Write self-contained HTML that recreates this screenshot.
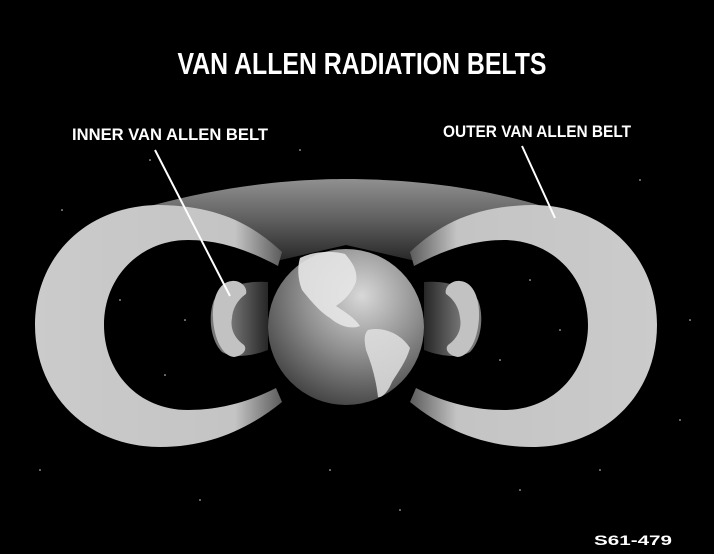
<!DOCTYPE html>
<html><head><meta charset="utf-8"><style>
html,body{margin:0;padding:0;background:#000;width:714px;height:554px;overflow:hidden}
svg{display:block}
text{font-family:"Liberation Sans",sans-serif;font-weight:bold;fill:#fff}
</style></head><body>
<svg width="714" height="554" viewBox="0 0 714 554">
<defs>
<linearGradient id="band" x1="0" y1="0" x2="0" y2="1">
<stop offset="0" stop-color="#909090"/><stop offset="0.5" stop-color="#5e5e5e"/><stop offset="1" stop-color="#262626"/></linearGradient>
<linearGradient id="lobe" gradientUnits="userSpaceOnUse" x1="35" y1="0" x2="285" y2="0">
<stop offset="0" stop-color="#cbcbcb"/><stop offset="0.8" stop-color="#c4c4c4"/><stop offset="1" stop-color="#555"/></linearGradient>
<linearGradient id="tube" gradientUnits="userSpaceOnUse" x1="230" y1="0" x2="270" y2="0">
<stop offset="0" stop-color="#777"/><stop offset="1" stop-color="#222"/></linearGradient>
<radialGradient id="earth" cx="0.6" cy="0.3" r="0.85">
<stop offset="0" stop-color="#d8d8d8"/><stop offset="0.45" stop-color="#8e8e8e"/><stop offset="1" stop-color="#2a2a2a"/></radialGradient>
<g id="lobeShape">
<path d="M282 252 C250 222 215 206 160 205 C85 205 35 258 35 325 C35 395 88 447 160 447 C210 447 250 428 282 402 L276 388 C245 404 215 410 188 410 C138 410 104 372 104 325 C104 275 142 240 188 240 C222 240 252 252 278 266 Z" fill="url(#lobe)"/>
<path d="M268 282 C240 280 222 290 214 300 C208 315 210 340 222 352 C232 358 250 357 268 350 Z" fill="url(#tube)"/>
<path d="M232 281 C218 282 212 300 213 318 C214 338 222 356 234 357 C242 356 248 350 244 345 C234 338 230 328 232 318 C233 306 240 298 246 294 C248 287 240 280 232 281 Z" fill="#c2c2c2"/>
</g>
</defs>
<rect width="714" height="554" fill="#000"/>
<g fill="#ddd">
<circle cx="62" cy="210" r="0.8"/><circle cx="300" cy="150" r="0.8"/><circle cx="640" cy="180" r="0.8"/><circle cx="690" cy="320" r="0.8"/><circle cx="40" cy="470" r="0.8"/><circle cx="330" cy="470" r="0.8"/><circle cx="520" cy="490" r="0.8"/><circle cx="200" cy="500" r="0.8"/><circle cx="600" cy="470" r="0.8"/><circle cx="400" cy="510" r="0.8"/><circle cx="150" cy="160" r="0.8"/><circle cx="680" cy="420" r="0.8"/>
<circle cx="120" cy="300" r="0.8"/><circle cx="185" cy="320" r="0.8"/><circle cx="560" cy="330" r="0.8"/><circle cx="500" cy="360" r="0.8"/><circle cx="165" cy="375" r="0.8"/><circle cx="530" cy="280" r="0.8"/>
</g>
<path d="M150 206 C230 184 300 179 346 179 C395 179 470 184 542 206 L420 262 L346 245 L272 262 Z" fill="url(#band)"/>
<g><use href="#lobeShape"/></g>
<g transform="translate(692,0) scale(-1,1)"><use href="#lobeShape"/></g>
<g>
<circle cx="346" cy="327" r="78" fill="url(#earth)"/>
<path d="M300 258 C312 252 330 250 345 254 C352 262 358 270 356 282 C352 292 345 300 336 306 C345 312 355 318 360 326 C350 330 338 325 330 318 C320 312 310 300 302 290 C298 280 297 268 300 258 Z" fill="#e6e6e6" opacity="0.9"/>
<path d="M368 330 C385 326 402 335 410 348 C406 362 398 372 392 382 C388 392 382 398 378 397 C376 380 372 365 366 350 C364 340 364 334 368 330 Z" fill="#e0e0e0" opacity="0.85"/>
</g>
<text x="362" y="74" text-anchor="middle" font-size="31" textLength="369" lengthAdjust="spacingAndGlyphs">VAN ALLEN RADIATION BELTS</text>
<text x="72" y="140" font-size="17" textLength="196" lengthAdjust="spacingAndGlyphs">INNER VAN ALLEN BELT</text>
<text x="443" y="137" font-size="17" textLength="188" lengthAdjust="spacingAndGlyphs">OUTER VAN ALLEN BELT</text>
<line x1="155" y1="150" x2="230" y2="296" stroke="#fff" stroke-width="2"/>
<line x1="522" y1="146" x2="555" y2="218" stroke="#fff" stroke-width="2"/>
<text x="594" y="545" font-size="14" textLength="78" lengthAdjust="spacingAndGlyphs">S61-479</text>
</svg>
</body></html>
